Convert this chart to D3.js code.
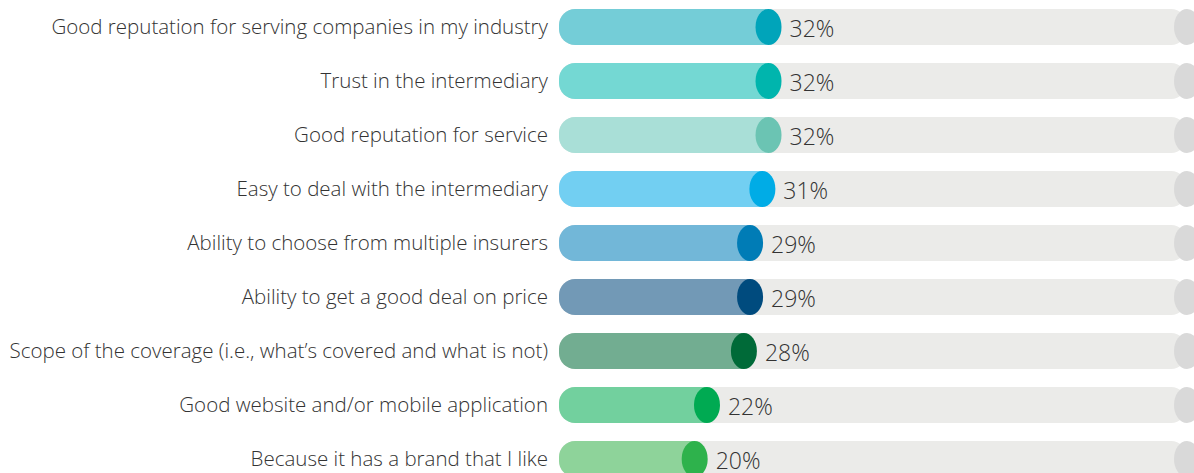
<!DOCTYPE html>
<html>
<head>
<meta charset="utf-8">
<script src="https://cdn.jsdelivr.net/npm/d3@7"></script>
<style>
  html, body { margin: 0; padding: 0; background: #fff; overflow: hidden; }
  text { font-family: "Open Sans", sans-serif; font-weight: 300; }
</style>
</head>
<body>
<div id="chart"></div>
<script>
/**
 * DATA
 * */
const categories = [
  "Good reputation for serving companies in my industry",
  "Trust in the intermediary",
  "Good reputation for service",
  "Easy to deal with the intermediary",
  "Ability to choose from multiple insurers",
  "Ability to get a good deal on price",
  "Scope of the coverage (i.e., what\u2019s covered and what is not)",
  "Good website and/or mobile application",
  "Because it has a brand that I like"
];
const values = [32, 32, 32, 31, 29, 29, 28, 22, 20];
const barColors = ["#74cdd7", "#74d8d3", "#a9dfd7", "#72cff2", "#72b7d8", "#7299b6", "#72ad91", "#72d09e", "#8ed39a"];
const capColors = ["#00a4ba", "#00b5ad", "#6bc4b3", "#00ace6", "#007cb6", "#004b7e", "#006a38", "#00aa52", "#2eb24c"];

/**
 * CONSTANTS
 * */
const width = 1194,
  height = 473;

const svg = d3.select("#chart")
  .append("svg")
  .attr("width", width)
  .attr("height", height);

const x = d3.scaleLinear().domain([0, 100]).range([571.6, 1187]);
const y = d3.scaleBand().domain(categories).range([0, 54 * 9]).paddingInner(0.3333).paddingOuter(0.1667);

const barLeft = 559,
  capRx = 13,
  bh = y.bandwidth();

const rows = svg.selectAll("g.row")
  .data(categories)
  .join("g")
  .attr("class", "row")
  .attr("transform", d => `translate(0, ${y(d)})`);

// grey track
rows.append("rect")
  .attr("x", barLeft)
  .attr("y", 0)
  .attr("width", x(100) - barLeft)
  .attr("height", bh)
  .attr("rx", 16)
  .attr("fill", "#ebebe9");

rows.append("ellipse")
  .attr("cx", x(100))
  .attr("cy", bh / 2)
  .attr("rx", capRx)
  .attr("ry", bh / 2)
  .attr("fill", "#d9d9d9");

// coloured bar
rows.append("path")
  .attr("d", (d, i) => {
    const r = 16, x1 = x(values[i]);
    return `M${barLeft + r},0 H${x1} V${bh} H${barLeft + r} A${r},${r} 0 0 1 ${barLeft},${bh - r} V${r} A${r},${r} 0 0 1 ${barLeft + r},0 Z`;
  })
  .attr("fill", (d, i) => barColors[i]);

rows.append("ellipse")
  .attr("cx", (d, i) => x(values[i]))
  .attr("cy", bh / 2)
  .attr("rx", capRx)
  .attr("ry", bh / 2)
  .attr("fill", (d, i) => capColors[i]);

// value labels
rows.append("text")
  .attr("x", (d, i) => x(values[i]) + capRx + 8)
  .attr("y", bh / 2 + 10)
  .attr("font-size", 23)
  .attr("fill", "#333")
  .text((d, i) => values[i] + "%");

// category labels
rows.append("text")
  .attr("x", 548)
  .attr("y", bh / 2 + 7)
  .attr("text-anchor", "end")
  .attr("font-size", 20.5)
  .attr("fill", "#333")
  .text(d => d);
</script>
</body>
</html>
